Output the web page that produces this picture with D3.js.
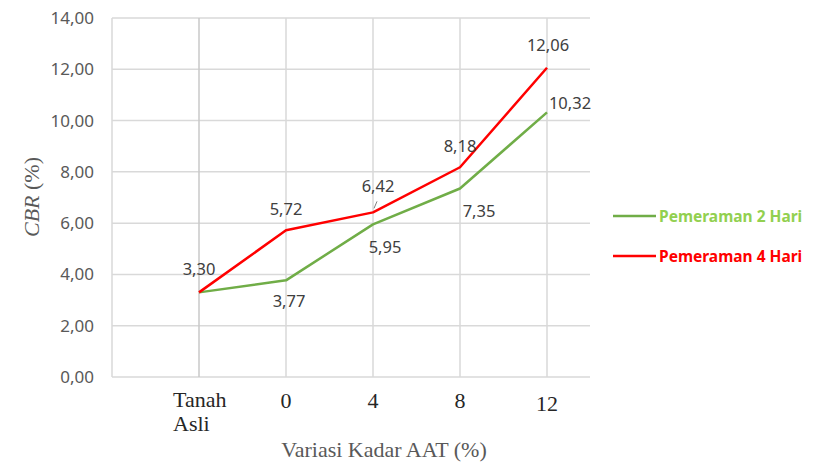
<!DOCTYPE html>
<html><head><meta charset="utf-8">
<script src="https://cdn.jsdelivr.net/npm/d3@7"></script>
<style>body{margin:0;background:#fff}</style>
</head><body>
<svg id="c" width="816" height="462"></svg>
<script>
const categories = ["", "Tanah Asli", "0", "4", "8", "12"];
const seriesNames = ["Pemeraman 2 Hari", "Pemeraman 4 Hari"];
const hari2 = [3.30, 3.77, 5.95, 7.35, 10.32];
const hari4 = [3.30, 5.72, 6.42, 8.18, 12.06];
const yTicks = [0, 2, 4, 6, 8, 10, 12, 14];
const pointCats = categories.slice(1);

const svg = d3.select("#c");
const L = 112, R = 590, T = 18, B = 377;
const x = d3.scalePoint().domain(categories).range([L, 547]);
const y = d3.scaleLinear().domain([0, 14]).range([B, T]);
const fmt = v => d3.format(".2f")(v).replace(".", ",");

// horizontal gridlines
svg.append("g").selectAll("line").data(yTicks).join("line")
  .attr("x1", L).attr("x2", R).attr("y1", d => y(d)).attr("y2", d => y(d))
  .attr("stroke", "#d9d9d9").attr("stroke-width", 1.5);
// vertical gridlines
svg.append("g").selectAll("line").data(categories).join("line")
  .attr("x1", d => x(d)).attr("x2", d => x(d)).attr("y1", T).attr("y2", B)
  .attr("stroke", d => d === "Tanah Asli" ? "#c8c8c8" : "#d9d9d9").attr("stroke-width", 1.5);

// y axis labels
const yAxis = d3.axisLeft(y).tickValues(yTicks).tickFormat(fmt).tickSize(0).tickPadding(18);
const ya = svg.append("g").attr("transform", `translate(${L},0)`).call(yAxis);
ya.select(".domain").remove();
ya.selectAll("text").attr("font-family", "Noto Sans, sans-serif").attr("font-size", 17).attr("fill", "#595959");

// x axis labels
const xa = svg.append("g");
pointCats.forEach(c => {
  const t = xa.append("text").attr("font-family", "Liberation Serif, serif").attr("font-size", 22).attr("fill", "#262626");
  if (c === "Tanah Asli") {
    t.attr("text-anchor", "start").attr("x", x(c) - 26);
    t.append("tspan").attr("x", x(c) - 26).attr("y", 407).text("Tanah");
    t.append("tspan").attr("x", x(c) - 26).attr("y", 431).text("Asli");
  } else {
    t.attr("text-anchor", "middle").attr("x", x(c)).attr("y", c === "12" ? 411 : 408).text(c);
  }
});

// axis titles
svg.append("text").attr("x", 384).attr("y", 457).attr("text-anchor", "middle")
  .attr("font-family", "Liberation Serif, serif").attr("font-size", 22).attr("fill", "#595959")
  .text("Variasi Kadar AAT (%)");
const yt = svg.append("text").attr("transform", "translate(39,197) rotate(-90)").attr("text-anchor", "middle")
  .attr("font-family", "Liberation Serif, serif").attr("font-size", 22).attr("fill", "#595959");
yt.append("tspan").attr("font-style", "italic").text("CBR");
yt.append("tspan").text(" (%)");

// lines
const colors = ["#70ad47", "#ff0000"];
const data = [hari2, hari4];
const line = d3.line().x((d, i) => x(pointCats[i])).y(d => y(d));
[0, 1].forEach(s => {
  svg.append("path").datum(data[s]).attr("d", line).attr("fill", "none")
    .attr("stroke", colors[s]).attr("stroke-width", 2.5).attr("stroke-linejoin", "round");
});

// data labels (offsets relative to point)
const off2 = [null, [3, 21], [12, 23], [19, 22], [23, -9]];
const off4 = [[0, -23], [0, -21], [5, -26], [0, -21], [1, -23]];
const lab = svg.append("g").attr("font-family", "Noto Sans, sans-serif").attr("font-size", 16.5)
  .attr("fill", "#404040").attr("text-anchor", "middle");
[[hari2, off2], [hari4, off4]].forEach(([vals, offs]) => {
  vals.forEach((v, i) => {
    if (!offs[i]) return;
    lab.append("text").attr("x", x(pointCats[i]) + offs[i][0]).attr("y", y(v) + offs[i][1] + 6).text(fmt(v));
  });
});
// leader line for 6,42
svg.append("line").attr("x1", x("4") + 1).attr("y1", y(6.42) - 4).attr("x2", x("4") + 4).attr("y2", y(6.42) - 11)
  .attr("stroke", "#7f7f7f").attr("stroke-width", 1);

// legend
const lg = svg.append("g");
[0, 1].forEach(s => {
  const ly = s === 0 ? 216 : 256;
  lg.append("line").attr("x1", 613).attr("x2", 656).attr("y1", ly).attr("y2", ly)
    .attr("stroke", colors[s]).attr("stroke-width", 2.5);
  lg.append("text").attr("x", 659).attr("y", ly + 5.5).attr("font-family", "Noto Sans, sans-serif")
    .attr("font-weight", "bold").attr("font-size", 15.5).attr("fill", s === 0 ? "#92d050" : "#ff0000")
    .text(seriesNames[s]);
});
</script>
</body></html>
